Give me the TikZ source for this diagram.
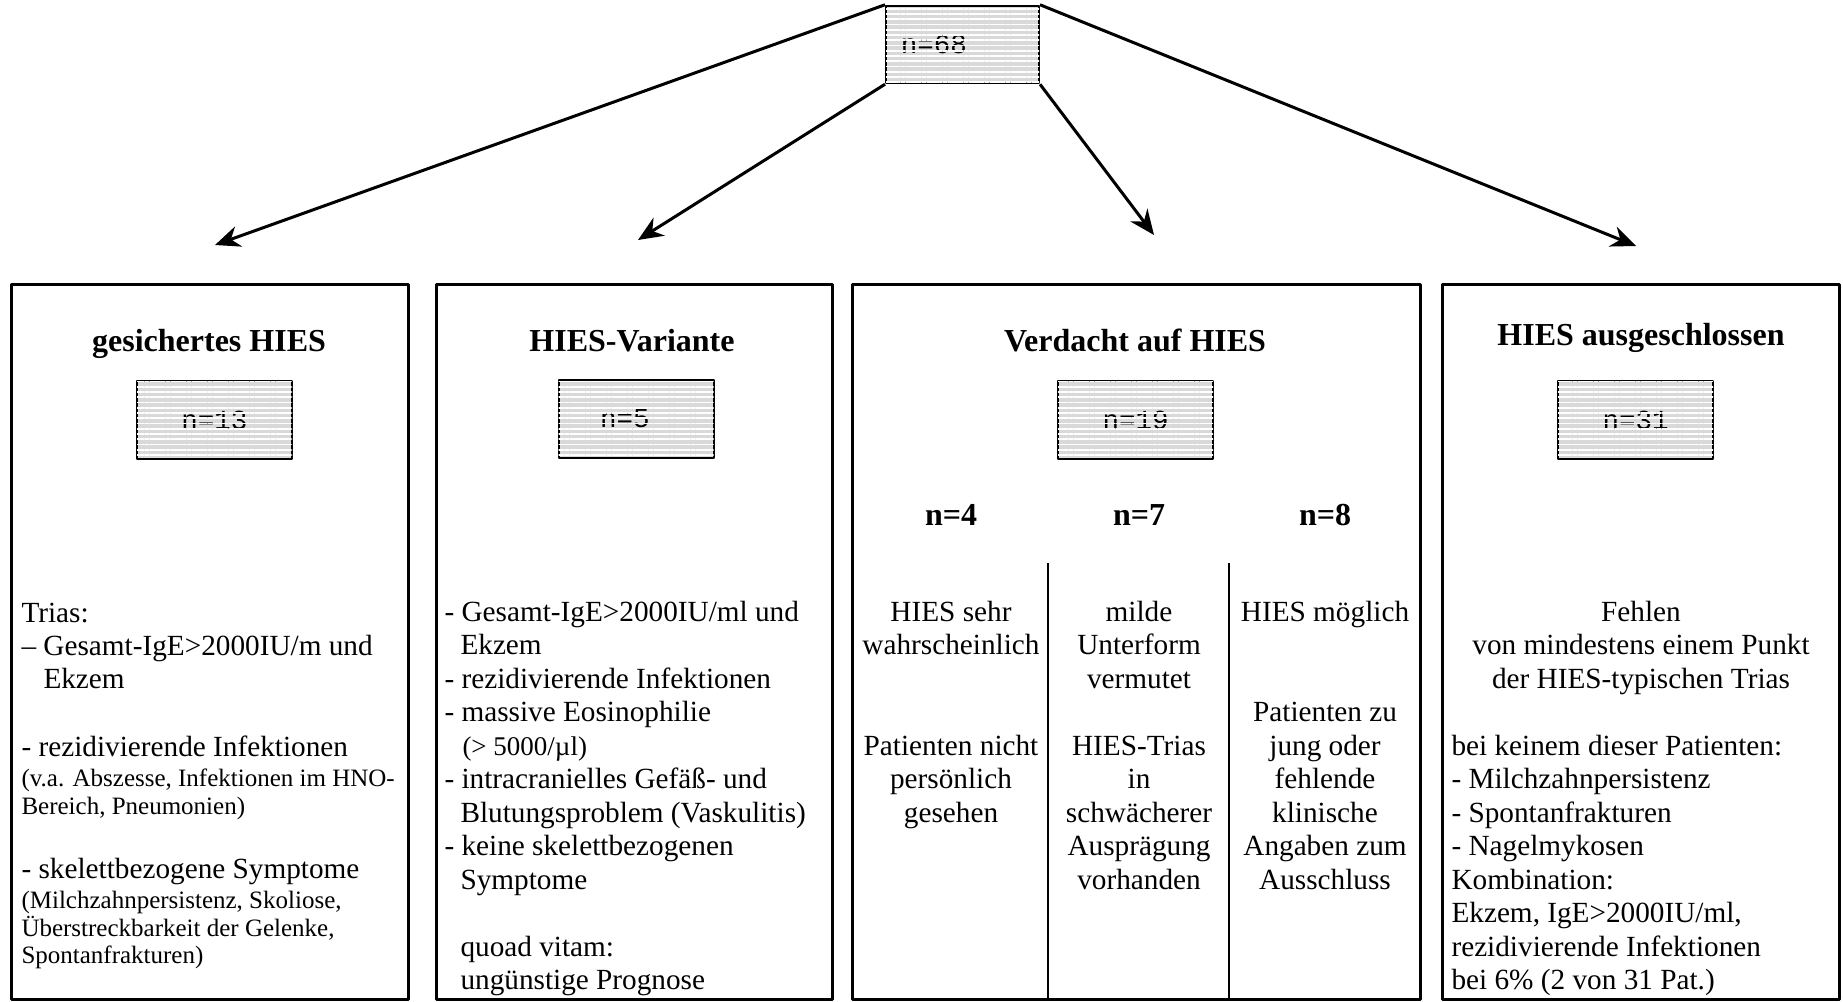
\documentclass[tikz,border=0pt]{standalone}
\usepackage{fontspec}
\setmainfont{Liberation Serif}
\setmonofont{Liberation Mono}
\usetikzlibrary{arrows.meta,patterns.meta}
\tikzset{
  bigbox/.style={draw,line width=1.2pt,anchor=north west,inner sep=0pt,minimum height=286pt},
  countbox/.style={draw,line width=0.8pt,fill=black!15,minimum width=62pt,minimum height=31pt,inner sep=0pt,font=\ttfamily\fontsize{11}{11}\selectfont},
  stripes/.style={pattern={Lines[distance=2.1pt,line width=0.7pt]},pattern color=white},
  title/.style={anchor=base,inner sep=0pt,font=\bfseries\fontsize{12.8}{15}\selectfont},
  txt/.style={anchor=base,inner sep=0pt,font=\fontsize{11.7}{13.5}\selectfont},
  txtl/.style={txt,anchor=base west},
  small/.style={anchor=base west,inner sep=0pt,font=\fontsize{10}{12}\selectfont},
  arr/.style={->,line width=1.2pt}
}
\begin{document}
\begin{tikzpicture}[x=0.4pt,y=-0.4pt,line join=round,>={Stealth[length=10pt,width=8.5pt]}]
  \useasboundingbox (0,0) rectangle (1843,1001);
  %% Gruppen
  \node[bigbox,minimum width=158.8pt] (g1) at (10,283) {};
  \node[bigbox,minimum width=158.4pt] (g2) at (435,283) {};
  \node[bigbox,minimum width=227.2pt] (g3) at (851,283) {};
  \node[bigbox,minimum width=158.8pt] (g4) at (1441,283) {};
  \node[title] (t1) at (209,351) {gesichertes HIES};
  \node[title] (t2) at (632,351) {HIES-Variante};
  \node[title] (t3) at (1135,351) {Verdacht auf HIES};
  \node[title] (t4) at (1641,345) {HIES ausgeschlossen};
  %% Patientenzahlen
  \node[countbox,minimum width=61.2pt] (n68) at (962.5,44.5) {n=68\hspace*{23pt}};
  \node[countbox] (n13) at (214.5,420) {n=13};
  \node[countbox] (n5) at (636,419) {n=5\hspace*{9pt}};
  \node[countbox] (n19) at (1135.5,420) {n=19};
  \node[countbox] (n31) at (1635.5,420) {n=31};
  \foreach \c in {n68,n13,n5,n19,n31}
    \fill[stripes] ([shift={(0.4pt,0.4pt)}]\c.south west) rectangle ([shift={(-0.4pt,-0.4pt)}]\c.north east);
  %% Pfeile
  \coordinate (e1) at (215,245);
  \coordinate (e2) at (638,240);
  \coordinate (e3) at (1154,235);
  \coordinate (e4) at (1636,246);
  \draw[arr] (n68.north west) -- (e1);
  \draw[arr] (n68.south west) -- (e2);
  \draw[arr] (n68.south east) -- (e3);
  \draw[arr] (n68.north east) -- (e4);
  %% gesichertes HIES
  \foreach \x/\y/\t [count=\i] in {21/622/Trias:, 21/655/{– Gesamt-IgE>2000IU/m und}, 43/688/Ekzem,
      21/756/{- rezidivierende Infektionen}, 21/878/{- skelettbezogene Symptome}}
    \node[txtl] (g1a\i) at (\x,\y) {\t};
  \foreach \y/\t [count=\i] in {786/{(v.a. Abszesse, Infektionen im HNO-}, 814/{Bereich, Pneumonien)},
      908/{(Milchzahnpersistenz, Skoliose,}, 936/{Überstreckbarkeit der Gelenke,}, 963/{Spontanfrakturen)}}
    \node[small] (g1b\i) at (21,\y) {\t};
  %% HIES-Variante
  \foreach \x/\r/\t [count=\i] in {444/0/{- Gesamt-IgE>2000IU/ml und}, 460/1/Ekzem, 444/2/{- rezidivierende Infektionen},
      444/3/{- massive Eosinophilie}, 444/5/{- intracranielles Gefäß- und}, 460/6/{Blutungsproblem (Vaskulitis)},
      444/7/{- keine skelettbezogenen}, 460/8/Symptome, 460/10/{quoad vitam:}, 460/11/{ungünstige Prognose}}
    \node[txtl] (g2a\i) at (\x,{621+33.5*\r}) {\t};
  \node[small,font=\fontsize{10.8}{12}\selectfont] (g2b) at (462,{621+33.5*4}) {(> 5000/µl)};
  %% Verdacht auf HIES
  \node[title] (k1) at (951,525) {n=4};
  \node[title] (k2) at (1139,525) {n=7};
  \node[title] (k3) at (1325,525) {n=8};
  \draw[line width=0.8pt] (1048,563) -- (1048,998);
  \draw[line width=0.8pt] (1229,563) -- (1229,998);
  \foreach \r/\t [count=\i] in {0/HIES sehr, 1/wahrscheinlich, 4/Patienten nicht, 5/persönlich, 6/gesehen}
    \node[txt] (v1-\i) at (951,{621+33.5*\r}) {\t};
  \foreach \r/\t [count=\i] in {0/milde, 1/Unterform, 2/vermutet, 4/HIES-Trias, 5/in, 6/schwächerer, 7/Ausprägung, 8/vorhanden}
    \node[txt] (v2-\i) at (1139,{621+33.5*\r}) {\t};
  \foreach \r/\t [count=\i] in {0/HIES möglich, 3/Patienten zu, 4/jung oder, 5/fehlende, 6/klinische, 7/Angaben zum, 8/Ausschluss}
    \node[txt] (v3-\i) at (1325,{621+33.5*\r}) {\t};
  %% HIES ausgeschlossen
  \foreach \r/\t [count=\i] in {0/Fehlen, 1/von mindestens einem Punkt, 2/der HIES-typischen Trias}
    \node[txt] (g4a\i) at (1641,{621+33.5*\r}) {\t};
  \foreach \r/\t [count=\i] in {4/{bei keinem dieser Patienten:}, 5/- Milchzahnpersistenz, 6/- Spontanfrakturen,
      7/- Nagelmykosen, 8/{Kombination:}, 9/{Ekzem, IgE>2000IU/ml,}, 10/rezidivierende Infektionen,
      11/{bei 6\% (2 von 31 Pat.)}}
    \node[txtl] (g4b\i) at (1451,{621+33.5*\r}) {\t};
\end{tikzpicture}
\end{document}
